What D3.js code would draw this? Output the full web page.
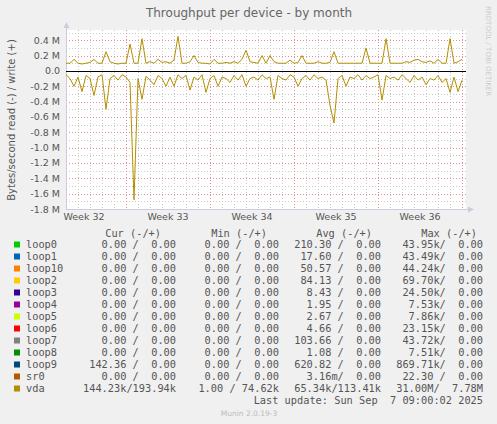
<!DOCTYPE html>
<html><head><meta charset="utf-8">
<script src="https://cdn.jsdelivr.net/npm/d3@7"></script>
<style>body{margin:0;background:#f0f0f0}svg{display:block}</style>
</head><body><svg id="c" width="497" height="424"></svg>
<script>
const yTicks=[0.4,0.2,0,-0.2,-0.4,-0.6,-0.8,-1.0,-1.2,-1.4,-1.6,-1.8];
const yTickLabels=["0.4 M","0.2 M","0.0","-0.2 M","-0.4 M","-0.6 M","-0.8 M","-1.0 M","-1.2 M","-1.4 M","-1.6 M","-1.8 M"];
const weekLabels=["Week 32","Week 33","Week 34","Week 35","Week 36"];
const weekPos=[1.5,8.5,15.5,22.5,29.5]; // days from start
const weekLines=[5,12,19,26,33];
// vda write (+) and read (-), MB/s, sampled every 1/3 day
const vdaWrite=[0.1,0.1,0.15,0.1,0.09,0.1,0.11,0.15,0.1,0.1,0.25,0.12,0.1,0.09,0.1,0.1,0.35,0.1,0.1,0.42,0.1,0.12,0.1,0.15,0.11,0.12,0.1,0.14,0.45,0.1,0.1,0.12,0.2,0.11,0.1,0.1,0.09,0.15,0.1,0.1,0.11,0.1,0.12,0.1,0.15,0.27,0.12,0.11,0.1,0.2,0.1,0.2,0.12,0.1,0.1,0.1,0.14,0.1,0.11,0.2,0.1,0.1,0.1,0.12,0.1,0.1,0.11,0.25,0.1,0.1,0.1,0.1,0.1,0.1,0.1,0.3,0.1,0.1,0.1,0.1,0.42,0.1,0.1,0.1,0.1,0.12,0.11,0.14,0.15,0.12,0.11,0.13,0.1,0.15,0.1,0.1,0.42,0.1,0.12,0.15];
const vdaRead=[-0.05,-0.1,-0.2,-0.08,-0.27,-0.06,-0.1,-0.32,-0.08,-0.05,-0.5,-0.1,-0.06,-0.12,-0.05,-0.08,-0.15,-1.68,-0.1,-0.37,-0.07,-0.12,-0.18,-0.06,-0.1,-0.2,-0.08,-0.2,-0.05,-0.1,-0.06,-0.25,-0.08,-0.12,-0.05,-0.28,-0.1,-0.06,-0.2,-0.08,-0.1,-0.15,-0.06,-0.12,-0.05,-0.2,-0.1,-0.08,-0.12,-0.05,-0.1,-0.08,-0.37,-0.06,-0.1,-0.12,-0.05,-0.08,-0.2,-0.1,-0.06,-0.12,-0.05,-0.1,-0.08,-0.12,-0.45,-0.68,-0.1,-0.06,-0.2,-0.08,-0.1,-0.05,-0.12,-0.06,-0.1,-0.08,-0.05,-0.38,-0.06,-0.1,-0.08,-0.12,-0.05,-0.1,-0.15,-0.06,-0.12,-0.08,-0.18,-0.1,-0.12,-0.06,-0.15,-0.1,-0.28,-0.08,-0.27,-0.12];
const names=["loop0","loop1","loop10","loop2","loop3","loop4","loop5","loop6","loop7","loop8","loop9","sr0","vda"];
const colors=["#00cc00","#0066b3","#ff8000","#ffcc00","#330099","#990099","#ccff00","#ff0000","#808080","#008f00","#00487d","#b35a00","#b38f00"];
const curCol=["0.00 /  0.00","0.00 /  0.00","0.00 /  0.00","0.00 /  0.00","0.00 /  0.00","0.00 /  0.00","0.00 /  0.00","0.00 /  0.00","0.00 /  0.00","0.00 /  0.00","142.36 /  0.00","0.00 /  0.00","144.23k/193.94k"];
const minCol=["0.00 /  0.00","0.00 /  0.00","0.00 /  0.00","0.00 /  0.00","0.00 /  0.00","0.00 /  0.00","0.00 /  0.00","0.00 /  0.00","0.00 /  0.00","0.00 /  0.00","0.00 /  0.00","0.00 /  0.00","1.00 / 74.62k"];
const avgCol=["210.30 /  0.00","17.60 /  0.00","50.57 /  0.00","84.13 /  0.00","8.43 /  0.00","1.95 /  0.00","2.67 /  0.00","4.66 /  0.00","103.66 /  0.00","1.08 /  0.00","620.82 /  0.00","3.16m/  0.00","65.34k/113.41k"];
const maxCol=["43.95k/  0.00","43.49k/  0.00","44.24k/  0.00","69.70k/  0.00","24.50k/  0.00","7.53k/  0.00","7.86k/  0.00","23.15k/  0.00","43.72k/  0.00","7.51k/  0.00","869.71k/  0.00","22.30 /  0.00","31.00M/  7.78M"];

const svg=d3.select("#c");
const L=66,R=466,T=30,B=209;
const x=d3.scaleLinear().domain([0,33.33]).range([L,R]);
const y=d3.scaleLinear().domain([-1.8,0.533]).range([B,T]);
svg.append("rect").attr("x",L).attr("y",T).attr("width",R-L).attr("height",B-T).attr("fill","#fff");
const g=svg.append("g");
d3.range(0,34).forEach(d=>g.append("line").attr("x1",x(d)+0.5).attr("x2",x(d)+0.5).attr("y1",T).attr("y2",B).attr("stroke","#c8c8c8").attr("stroke-dasharray","1,2"));
d3.range(-18,6).forEach(d=>g.append("line").attr("x1",L).attr("x2",R).attr("y1",Math.round(y(d/10))+0.5).attr("y2",Math.round(y(d/10))+0.5).attr("stroke","#c8c8c8").attr("stroke-dasharray","1,2"));
weekLines.forEach(d=>g.append("line").attr("x1",Math.round(x(d))+0.5).attr("x2",Math.round(x(d))+0.5).attr("y1",T).attr("y2",B).attr("stroke","#e09090").attr("stroke-dasharray","1,2"));
yTicks.forEach(d=>g.append("line").attr("x1",L).attr("x2",R).attr("y1",Math.round(y(d))+0.5).attr("y2",Math.round(y(d))+0.5).attr("stroke","#e09090").attr("stroke-dasharray","1,2"));
svg.append("line").attr("x1",L+0.5).attr("x2",L+0.5).attr("y1",B).attr("y2",T-3).attr("stroke","#ccd");
svg.append("path").attr("d",`M${L-2.5},${T-2}L${L+3.5},${T-2}L${L+0.5},${T-8}Z`).attr("fill","#ccd");
svg.append("line").attr("x1",L).attr("x2",R+3).attr("y1",B+0.5).attr("y2",B+0.5).attr("stroke","#ccd");
svg.append("path").attr("d",`M${R+2},${B-2.5}L${R+2},${B+3.5}L${R+8},${B+0.5}Z`).attr("fill","#ccd");
const line=d3.line().x((d,i)=>x(i/3)).y(d=>y(d));
svg.append("path").datum(vdaRead).attr("d",line).attr("fill","none").attr("stroke","#b38f00").attr("stroke-width",1);
svg.append("path").datum(vdaWrite).attr("d",line).attr("fill","none").attr("stroke","#b38f00").attr("stroke-width",1);
svg.append("line").attr("x1",L).attr("x2",R).attr("y1",Math.round(y(0))+0.5).attr("y2",Math.round(y(0))+0.5).attr("stroke","#000");
const fs="DejaVu Sans";
yTicks.forEach((d,i)=>svg.append("text").attr("x",60).attr("y",y(d)+3.5).attr("text-anchor","end").attr("font-family",fs).attr("font-size",9.5).attr("fill","#555").text(yTickLabels[i]));
weekLabels.forEach((w,i)=>svg.append("text").attr("x",x(weekPos[i])).attr("y",220).attr("text-anchor","middle").attr("font-family",fs).attr("font-size",9.5).attr("fill","#555").text(w));
svg.append("text").attr("x",249).attr("y",17).attr("text-anchor","middle").attr("font-family",fs).attr("font-size",12).attr("fill","#666").text("Throughput per device - by month");
svg.append("text").attr("transform","translate(15,120) rotate(-90)").attr("text-anchor","middle").attr("font-family",fs).attr("font-size",10).attr("fill","#555").text("Bytes/second read (-) / write (+)");
svg.append("text").attr("transform","translate(486,6) rotate(90)").attr("font-family",fs).attr("font-size",7).attr("fill","#ccc").text("RRDTOOL / TOBI OETIKER");
const mono="DejaVu Sans Mono";
const txt=(s,xx,yy,anc,col)=>svg.append("text").attr("x",xx).attr("y",yy).attr("text-anchor",anc||"start").attr("font-family",mono).attr("font-size",10.3).attr("fill",col||"#555").attr("xml:space","preserve").style("white-space","pre").text(s);
const hy=237;
txt("Cur (-/+)",161,hy,"end");txt("Min (-/+)",267,hy,"end");txt("Avg (-/+)",372,hy,"end");txt("Max (-/+)",477,hy,"end");
names.forEach((n,i)=>{
  const yy=248+i*12;
  svg.append("rect").attr("x",14).attr("y",yy-6.5).attr("width",6).attr("height",6).attr("fill",colors[i]);
  txt(n,26,yy);
  txt(curCol[i],176,yy,"end");txt(minCol[i],279,yy,"end");txt(avgCol[i],381,yy,"end");txt(maxCol[i],483,yy,"end");
});
txt("Last update: Sun Sep  7 09:00:02 2025",483,404,"end");
svg.append("text").attr("x",249).attr("y",416).attr("text-anchor","middle").attr("font-family",fs).attr("font-size",7.5).attr("fill","#bbb").text("Munin 2.0.19-3");
</script></body></html>
